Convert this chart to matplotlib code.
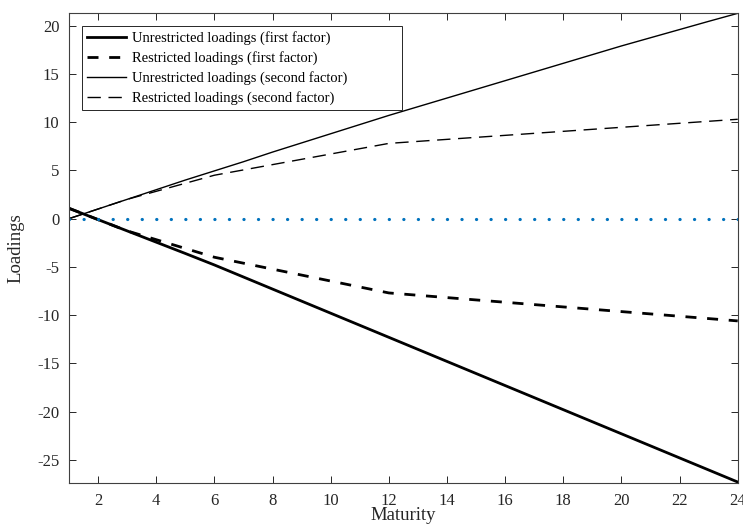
import matplotlib.pyplot as plt

# maturities and loadings
maturity = list(range(1, 25))
unres_first = [1.07, -0.10, -1.27, -2.44, -3.61, -4.80, -6.05, -7.30, -8.55, -9.80,
               -11.05, -12.30, -13.55, -14.80, -16.05, -17.30, -18.55, -19.80,
               -21.05, -22.30, -23.55, -24.80, -26.05, -27.30]
unres_second = [0.0, 1.0, 2.0, 3.0, 4.0, 4.95, 5.9, 6.9, 7.85, 8.8, 9.75, 10.7,
                11.6, 12.5, 13.4, 14.3, 15.2, 16.1, 17.0, 17.9, 18.75, 19.6,
                20.45, 21.28]
# restricted loadings: only the kink points are visible
res_mat = [1, 2, 3, 6, 12, 24]
res_first = [1.07, -0.10, -1.27, -4.0, -7.7, -10.6]
res_second = [0.0, 1.0, 2.0, 4.5, 7.8, 10.3]
zero_x = [1, 24]
zero_y = [0, 0]

plt.rcParams['font.family'] = ['Liberation Serif', 'DejaVu Serif']
plt.rcParams['axes.unicode_minus'] = False

fig = plt.figure(figsize=(7.43, 5.25), dpi=100)
ax = fig.add_axes([0.0929, 0.08, 0.9, 0.8946])

ax.plot(maturity, unres_first, color='black', lw=2.0,
        label='Unrestricted loadings (first factor)')
ax.plot(res_mat, res_first, color='black', lw=2.0, dashes=(3.96, 3.85),
        label='Restricted loadings (first factor)')
ax.plot(maturity, unres_second, color='black', lw=1.0,
        label='Unrestricted loadings (second factor)')
ax.plot(res_mat, res_second, color='black', lw=1.0, dashes=(9.6, 5.5),
        label='Restricted loadings (second factor)')
ax.plot(zero_x, zero_y, color='#0072BD', lw=2.3, dashes=(0.05, 4.5),
        dash_capstyle='round')

ax.set_xlim(1, 24)
ax.set_ylim(-27.4, 21.28)
ax.set_xticks(range(2, 25, 2))
ax.set_yticks(range(-25, 21, 5))
ax.tick_params(direction='in', length=5, width=0.7, top=True, right=True,
               colors='#262626', labelcolor='#262626', labelsize=12, pad=7)
for s in ax.spines.values():
    s.set_color('#404040')
    s.set_linewidth(0.8)

ax.set_xlabel('Maturity', fontsize=13.5, labelpad=-1, color='#262626')
ax.set_ylabel('Loadings', fontsize=13.5, labelpad=9, color='#262626')

leg = ax.legend(loc='upper left', bbox_to_anchor=(0.0194, 0.5, 0.4784, 0.472),
                mode='expand', borderaxespad=0,
                handlelength=2.67, fancybox=False, framealpha=1, edgecolor='#262626',
                fontsize=10.5, labelspacing=0.42, borderpad=0.33, handletextpad=0.4)
leg.get_frame().set_linewidth(0.7)

fig.savefig('out.png', dpi=100)
